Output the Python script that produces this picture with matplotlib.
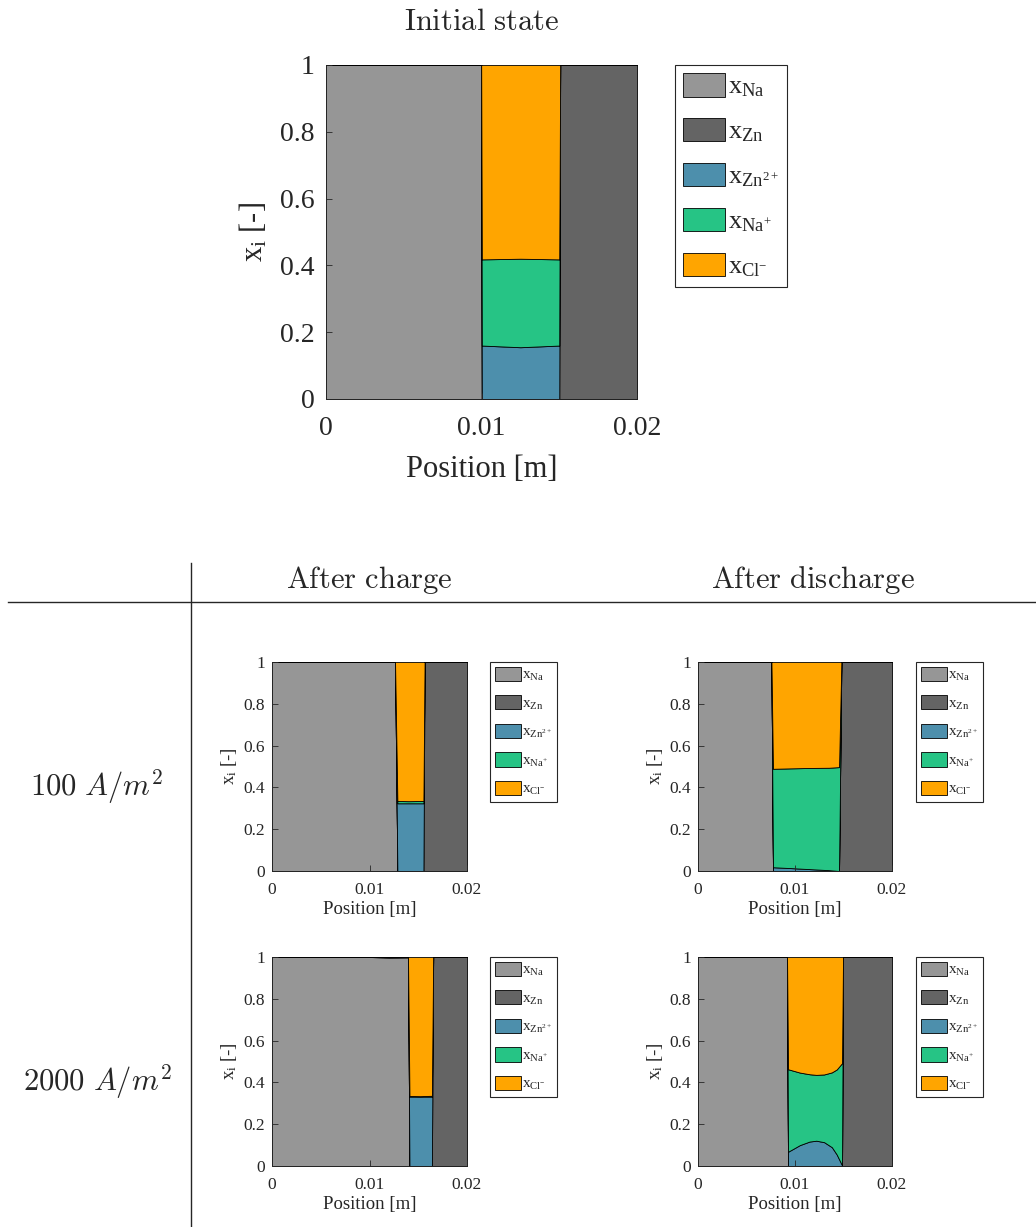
import matplotlib
matplotlib.use("Agg")
import matplotlib.pyplot as plt
from matplotlib.lines import Line2D

plt.rcParams['font.family'] = ['Liberation Serif', 'DejaVu Serif']
plt.rcParams['mathtext.fontset'] = 'custom'
plt.rcParams['mathtext.rm'] = 'Liberation Serif'
plt.rcParams['mathtext.it'] = 'Liberation Serif:italic'
plt.rcParams['text.color'] = '#262626'
plt.rcParams['axes.labelcolor'] = '#262626'
plt.rcParams['xtick.color'] = '#262626'
plt.rcParams['ytick.color'] = '#262626'

W, H = 1036, 1227

species = [r'$\mathrm{x_{Na}}$', r'$\mathrm{x_{Zn}}$', r'$\mathrm{x_{Zn^{2+}}}$',
           r'$\mathrm{x_{Na^{+}}}$', r'$\mathrm{x_{Cl^{-}}}$']
colors = ['#969696', '#646464', '#4d8fac', '#26c485', '#ffa500']

# initial state
init_x = [0.0, 0.00998, 0.01002, 0.0125, 0.01500, 0.01506, 0.02]
init_na = [1, 1, 0, 0, 0, 0, 0]
init_zn = [0, 0, 0, 0, 0, 1, 1]
init_zn2 = [0, 0, 0.160, 0.155, 0.160, 0, 0]
init_nap = [0, 0, 0.258, 0.265, 0.258, 0, 0]
init_cl = [0, 0, 0.582, 0.580, 0.582, 0, 0]

# after charge, 100 A/m2
c1_x = [0.0, 0.01262, 0.01286, 0.0140, 0.01553, 0.01565, 0.02]
c1_na = [1, 1, 0, 0, 0, 0, 0]
c1_zn = [0, 0, 0, 0, 0, 1, 1]
c1_zn2 = [0, 0, 0.324, 0.324, 0.324, 0, 0]
c1_nap = [0, 0, 0.011, 0.010, 0.011, 0, 0]
c1_cl = [0, 0, 0.665, 0.666, 0.665, 0, 0]

# after discharge, 100 A/m2
d1_x = [0.0, 0.00757, 0.00773, 0.0095, 0.0115, 0.0135, 0.01454, 0.01478, 0.02]
d1_na = [1, 1, 0, 0, 0, 0, 0, 0, 0]
d1_zn = [0, 0, 0, 0, 0, 0, 0, 1, 1]
d1_zn2 = [0, 0, 0.018, 0.014, 0.009, 0.004, 0.0, 0, 0]
d1_nap = [0, 0, 0.471, 0.477, 0.484, 0.490, 0.497, 0, 0]
d1_cl = [0, 0, 0.511, 0.509, 0.507, 0.506, 0.503, 0, 0]

# after charge, 2000 A/m2
c2_x = [0.0, 0.0100, 0.0120, 0.01395, 0.01410, 0.0152, 0.01640, 0.01653, 0.02]
c2_na = [1, 1, 0.997, 0.998, 0, 0, 0, 0, 0]
c2_zn = [0, 0, 0.003, 0.002, 0, 0, 0, 1, 1]
c2_zn2 = [0, 0, 0, 0, 0.332, 0.332, 0.332, 0, 0]
c2_nap = [0, 0, 0, 0, 0.003, 0.002, 0.004, 0, 0]
c2_cl = [0, 0, 0, 0, 0.665, 0.666, 0.664, 0, 0]

# after discharge, 2000 A/m2
d2_x = [0.0, 0.00918, 0.00928, 0.0105, 0.0115, 0.0122, 0.0130, 0.0138, 0.0143,
        0.01485, 0.01495, 0.02]
d2_na = [1, 1, 0, 0, 0, 0, 0, 0, 0, 0, 0, 0]
d2_zn = [0, 0, 0, 0, 0, 0, 0, 0, 0, 0, 1, 1]
d2_zn2 = [0, 0, 0.068, 0.100, 0.117, 0.121, 0.114, 0.090, 0.055, 0.003, 0, 0]
d2_nap = [0, 0, 0.395, 0.347, 0.322, 0.315, 0.324, 0.358, 0.407, 0.489, 0, 0]
d2_cl = [0, 0, 0.537, 0.553, 0.561, 0.564, 0.562, 0.552, 0.538, 0.508, 0, 0]

xticks = [0, 0.01, 0.02]
xticklabels = ['0', '0.01', '0.02']
yticks = [0, 0.2, 0.4, 0.6, 0.8, 1]
yticklabels = ['0', '0.2', '0.4', '0.6', '0.8', '1']


def rect(l, t, r, b):
    return [l / W, 1 - b / H, (r - l) / W, (b - t) / H]


def panel(fig, box, x, ys, fs, leg_xy, leg_kw):
    tick_fs, label_fs, leg_fs, xpad, ypad, xlpad, ylpad = fs
    ax = fig.add_axes(rect(*box))
    ax.stackplot(x, *ys, colors=colors, labels=species,
                 edgecolor='black', linewidth=0.6)
    ax.set_xlim(0, 0.02)
    ax.set_ylim(0, 1)
    ax.set_xticks(xticks)
    ax.set_xticklabels(xticklabels)
    ax.set_yticks(yticks)
    ax.set_yticklabels(yticklabels)
    ax.tick_params(direction='in', labelsize=tick_fs, length=4, width=0.6)
    ax.tick_params(axis='x', pad=xpad)
    ax.tick_params(axis='y', pad=ypad)
    for s in ['top', 'right']:
        ax.spines[s].set_visible(False)
    for s in ['left', 'bottom']:
        ax.spines[s].set_color('#262626')
        ax.spines[s].set_linewidth(0.6)
    ax.set_xlabel('Position [m]', fontsize=label_fs, labelpad=xlpad)
    ax.set_ylabel(r'$\mathrm{x_i}$ [-]', fontsize=label_fs, labelpad=ylpad)
    leg = ax.legend(loc='upper left', bbox_to_anchor=(leg_xy[0] / W, 1 - leg_xy[1] / H),
                    bbox_transform=fig.transFigure, fontsize=leg_fs,
                    fancybox=False, framealpha=1, edgecolor='#262626',
                    **leg_kw)
    leg.get_frame().set_linewidth(0.8)
    return ax


fig = plt.figure(figsize=(W / 100, H / 100), dpi=100)

big_leg = dict(handlelength=1.6, handleheight=1.0, labelspacing=0.7,
               handletextpad=0.1, borderpad=0.3, borderaxespad=0)
small_leg = dict(handlelength=1.7, handleheight=1.05, labelspacing=0.8,
                 handletextpad=0.1, borderpad=0.3, borderaxespad=0)

big_fs = (20, 22, 19, 12, 8, 10, 8)
small_fs = (12.5, 13.5, 11, 8, 5, 2, 3)

ax0 = panel(fig, (326, 65, 637, 399), init_x,
            [init_na, init_zn, init_zn2, init_nap, init_cl],
            big_fs, (675, 65), big_leg)
ax0.set_title(r'$\mathrm{Initial\ state}$', fontsize=22, math_fontfamily='cm',
              pad=25, color='#262626')

panel(fig, (272, 662, 467, 871), c1_x, [c1_na, c1_zn, c1_zn2, c1_nap, c1_cl],
      small_fs, (490, 662), small_leg)
panel(fig, (698, 662, 892, 871), d1_x, [d1_na, d1_zn, d1_zn2, d1_nap, d1_cl],
      small_fs, (916, 662), small_leg)
panel(fig, (272, 957, 467, 1166), c2_x, [c2_na, c2_zn, c2_zn2, c2_nap, c2_cl],
      small_fs, (490, 957), small_leg)
panel(fig, (698, 957, 892, 1166), d2_x, [d2_na, d2_zn, d2_zn2, d2_nap, d2_cl],
      small_fs, (916, 957), small_leg)

# table-like header and row labels
fig.text(369 / W, 1 - 580 / H, r'$\mathrm{After\ charge}$', fontsize=22,
         math_fontfamily='cm', ha='center', va='center')
fig.text(813 / W, 1 - 580 / H, r'$\mathrm{After\ discharge}$', fontsize=22,
         math_fontfamily='cm', ha='center', va='center')
fig.text(97 / W, 1 - 787 / H, r'$100\ A/m^2$', fontsize=22,
         math_fontfamily='cm', ha='center', va='center')
fig.text(97 / W, 1 - 1082 / H, r'$2000\ A/m^2$', fontsize=22,
         math_fontfamily='cm', ha='center', va='center')

fig.add_artist(Line2D([8 / W, 1], [1 - 602 / H, 1 - 602 / H],
                      transform=fig.transFigure, color='#262626', lw=1))
fig.add_artist(Line2D([191 / W, 191 / W], [1 - 563 / H, 0],
                      transform=fig.transFigure, color='#262626', lw=1))

fig.savefig('out.png', dpi=100)
